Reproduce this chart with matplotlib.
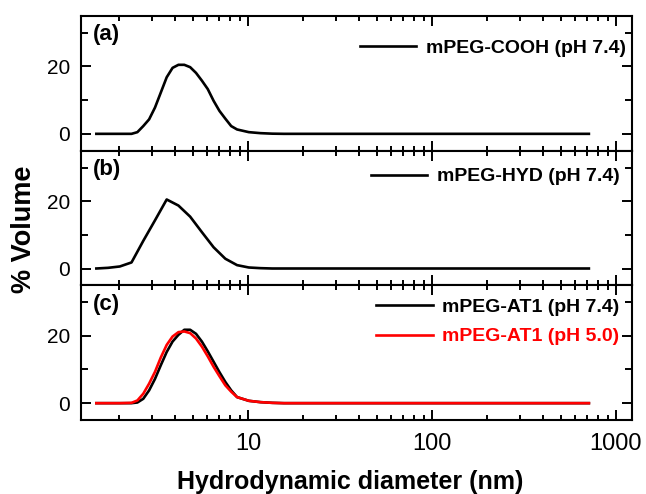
import matplotlib
matplotlib.use("Agg")
import matplotlib.pyplot as plt
from matplotlib.ticker import MultipleLocator, LogLocator, NullFormatter, FixedLocator

plt.rcParams['font.family'] = ['Liberation Sans', 'DejaVu Sans']

# Common tail of the size distribution (nm), where every series is zero
tail_d = [15.69, 18.17, 21.04, 24.36, 28.21, 32.67, 37.84, 43.82, 50.75, 58.77,
          68.06, 78.82, 91.28, 105.7, 122.4, 141.8, 164.2, 190.1, 220.2, 255.0,
          295.3, 342.0, 396.1, 458.7, 531.2, 615.1, 712.4]
tail_v = [0.0] * len(tail_d)

# (a) mPEG-COOH, pH 7.4
d_cooh = [1.499, 1.736, 2.010, 2.328, 2.505, 2.696, 2.901, 3.122, 3.360, 3.615,
          3.891, 4.187, 4.506, 4.849, 5.218, 5.615, 6.043, 6.503, 6.998, 7.531,
          8.104, 8.721, 10.10, 11.70, 13.54] + tail_d
v_cooh = [0.0, 0.0, 0.0, 0.0, 0.5, 2.3, 4.3, 7.8, 12.3, 16.8,
          19.6, 20.5, 20.5, 19.8, 18.1, 15.8, 13.3, 9.8, 6.8, 4.5,
          2.3, 1.3, 0.5, 0.2, 0.05] + tail_v

# (b) mPEG-HYD, pH 7.4
d_hyd = [1.499, 1.736, 2.010, 2.328, 2.696, 3.122, 3.615, 4.187, 4.849, 5.615,
         6.503, 7.531, 8.721, 10.10, 11.70, 13.54] + tail_d
v_hyd = [0.0, 0.2, 0.6, 1.8, 8.2, 14.3, 20.5, 18.7, 15.4, 10.8,
         6.3, 2.9, 1.0, 0.3, 0.1, 0.0] + tail_v

# (c) mPEG-AT1 at pH 7.4 and pH 5.0
d_at1 = [1.499, 1.736, 2.010, 2.328, 2.505, 2.696, 2.901, 3.122, 3.360, 3.615,
         3.891, 4.187, 4.506, 4.849, 5.218, 5.615, 6.043, 6.503, 6.998, 7.531,
         8.104, 8.721, 10.10, 11.70, 13.54] + tail_d
v_at1_74 = [0.0, 0.0, 0.0, 0.0, 0.2, 1.3, 3.8, 7.2, 11.3, 15.2,
            18.3, 20.3, 21.8, 21.8, 20.6, 18.3, 15.4, 12.3, 9.2, 6.3,
            3.8, 1.8, 0.7, 0.3, 0.1] + tail_v
v_at1_50 = [0.0, 0.0, 0.0, 0.1, 0.8, 2.8, 5.8, 9.3, 13.6, 17.3,
            19.8, 21.1, 21.3, 20.8, 19.2, 16.8, 13.9, 10.8, 8.0, 5.3,
            3.4, 1.8, 0.7, 0.3, 0.1] + tail_v

panel_tags = ['(a)', '(b)', '(c)']
panels = [
    [('mPEG-COOH (pH 7.4)', d_cooh, v_cooh, 'black')],
    [('mPEG-HYD (pH 7.4)', d_hyd, v_hyd, 'black')],
    [('mPEG-AT1 (pH 7.4)', d_at1, v_at1_74, 'black'),
     ('mPEG-AT1 (pH 5.0)', d_at1, v_at1_50, 'red')],
]
legend_anchor = [(1.0, 0.871), (0.988, 0.916), (0.988, 0.945)]

fig = plt.figure(figsize=(6.46, 4.94), dpi=100)
left, right, top, bottom = 81 / 646, 632 / 646, 1 - 16 / 494, 1 - 420 / 494
h = (top - bottom) / 3

for i, (tag, series) in enumerate(zip(panel_tags, panels)):
    ax = fig.add_axes([left, top - (i + 1) * h, right - left, h])
    for label, d, v, col in series:
        ax.plot(d, v, color=col, lw=1.9, label=label)
    ax.set_xscale('log')
    ax.set_xlim(1.237, 1222)
    ax.set_ylim(-5, 35)
    ax.yaxis.set_major_locator(MultipleLocator(20))
    ax.yaxis.set_minor_locator(MultipleLocator(10))
    ax.xaxis.set_major_locator(FixedLocator([10, 100, 1000]))
    ax.xaxis.set_minor_locator(LogLocator(base=10, subs=range(2, 10)))
    ax.xaxis.set_minor_formatter(NullFormatter())
    for s in ax.spines.values():
        s.set_linewidth(1.5)
    ax.tick_params(which='both', direction='in', top=True, right=True,
                   width=1.4, labelsize=15, pad=8)
    ax.tick_params(axis='x', which='major', length=7, pad=9, labelsize=17)
    ax.tick_params(axis='x', which='minor', length=3.5)
    ax.tick_params(axis='y', which='major', length=7)
    ax.tick_params(axis='y', which='minor', length=5)
    if i < 2:
        ax.tick_params(axis='x', labelbottom=False)
    else:
        ax.set_xticklabels(['10', '100', '1000'])
    ax.text(0.022, 0.86, tag, transform=ax.transAxes, fontsize=16,
            fontweight='bold', va='center', ha='left')
    leg = ax.legend(loc='upper right', bbox_to_anchor=legend_anchor[i],
                    frameon=False, prop={'weight': 'bold', 'size': 14},
                    handlelength=2.9, handletextpad=0.5, borderaxespad=0.0,
                    borderpad=0.3, labelspacing=0.6)
    for txt, item in zip(leg.get_texts(), series):
        txt.set_color(item[3])

fig.text(350 / 646, 0.0, 'Hydrodynamic diameter (nm)', fontsize=18,
         fontweight='bold', ha='center', va='bottom')
fig.text(24 / 646, 1 - 229 / 494, '% Volume', fontsize=19.5, fontweight='bold',
         ha='center', va='center', rotation=90)

fig.savefig('out.png', dpi=100)
